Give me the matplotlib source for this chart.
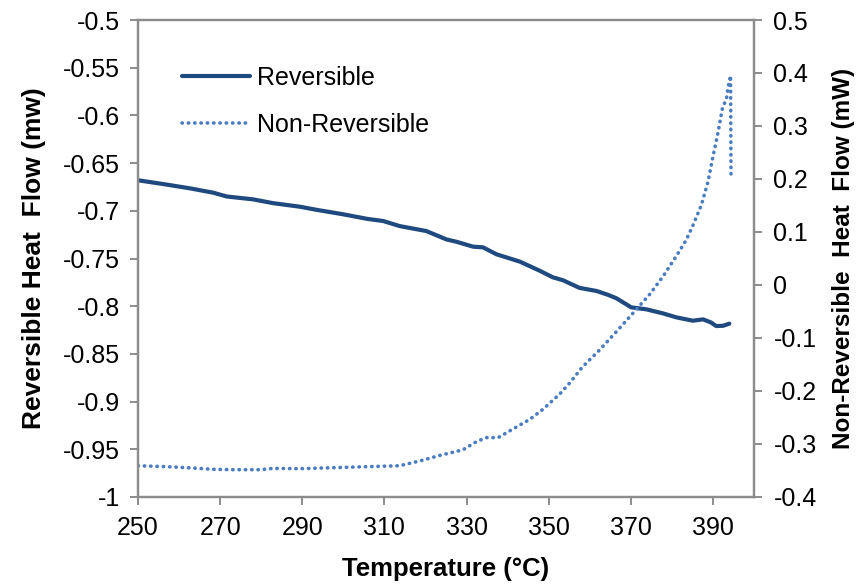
import matplotlib
matplotlib.use("Agg")
import matplotlib.pyplot as plt
from matplotlib.ticker import FixedLocator

plt.rcParams['font.family'] = ['Liberation Sans', 'DejaVu Sans']

# ---- data ----
rev_temp = [250, 256.2, 262.7, 268.3, 271.6, 278, 282.9, 289.4, 293.5, 300, 306,
            309.7, 313.7, 320.2, 325.1, 327.5, 331.6, 334, 337.3, 343, 347.8, 351,
            353.5, 357.5, 361.6, 364.4, 366.5, 370.1, 373.8, 377.8, 381.1, 385.1,
            387.6, 389.5, 390.8, 392.5, 394]
rev_flow = [-0.668, -0.672, -0.6765, -0.681, -0.685, -0.688, -0.692, -0.6957, -0.699,
            -0.7037, -0.7086, -0.7107, -0.716, -0.7212, -0.730, -0.7324, -0.7376,
            -0.7383, -0.7456, -0.7533, -0.7628, -0.7697, -0.7728, -0.7808, -0.7840,
            -0.788, -0.7917, -0.8012, -0.8033, -0.8075, -0.8117, -0.8152, -0.8138,
            -0.817, -0.8208, -0.8205, -0.8183]

nrev_temp = [250, 257, 262.7, 268.3, 273.2, 279.7, 282.9, 289.4, 297.5, 305.6, 313.7,
             318.6, 323.5, 329.1, 332.4, 334.8, 337.7, 341.3, 345.4, 348.6, 352.7,
             355.1, 358.3, 362.4, 366.5, 370.5, 374.6, 377.8, 381.1, 383.5, 385.1,
             387.2, 388.8, 390, 391.2, 392.3, 393.3, 393.7, 394.3, 394.4]
nrev_flow = [-0.341, -0.3428, -0.345, -0.3478, -0.3485, -0.3485, -0.346, -0.3466,
             -0.3447, -0.3428, -0.341, -0.332, -0.3215, -0.311, -0.2956, -0.288,
             -0.288, -0.2717, -0.2535, -0.2346, -0.2057, -0.185, -0.154, -0.1226,
             -0.088, -0.0535, -0.0176, 0.0157, 0.0547, 0.085, 0.112, 0.151, 0.195,
             0.242, 0.286, 0.333, 0.352, 0.374, 0.395, 0.204]

x_ticks = [250, 270, 290, 310, 330, 350, 370, 390]
left_ticks = [-1, -0.95, -0.9, -0.85, -0.8, -0.75, -0.7, -0.65, -0.6, -0.55, -0.5]
left_labels = ['-1', '-0.95', '-0.9', '-0.85', '-0.8', '-0.75', '-0.7', '-0.65', '-0.6', '-0.55', '-0.5']
right_ticks = [-0.4, -0.3, -0.2, -0.1, 0, 0.1, 0.2, 0.3, 0.4, 0.5]
right_labels = ['-0.4', '-0.3', '-0.2', '-0.1', '0', '0.1', '0.2', '0.3', '0.4', '0.5']

# ---- figure ----
fig = plt.figure(figsize=(8.66, 5.86), dpi=100)
ax = fig.add_axes([138/866, 1-497/586, (754-138)/866, (497-20)/586])
ax2 = ax.twinx()

c_rev = '#1F4A7F'
c_nrev = '#4A7CC0'
gray = '#8C8C8C'
fs = 18

l1, = ax.plot(rev_temp, rev_flow, color=c_rev, lw=3.0, solid_capstyle='round',
              label='Reversible')
l2, = ax2.plot(nrev_temp, nrev_flow, color=c_nrev, lw=2.6,
               linestyle=(0, (0.1, 1.65)), dash_capstyle='round',
               label='Non-Reversible')

ax.set_xlim(250, 400)
ax.set_ylim(-1, -0.5)
ax2.set_ylim(-0.4, 0.5)

ax.xaxis.set_major_locator(FixedLocator(x_ticks))
ax.set_xticklabels([str(t) for t in x_ticks])
ax.set_yticks(left_ticks)
ax.set_yticklabels(left_labels)
ax2.set_yticks(right_ticks)
ax2.set_yticklabels(right_labels)

for a in (ax, ax2):
    for s in a.spines.values():
        s.set_color(gray)
        s.set_linewidth(1.6)
    a.tick_params(colors=gray, width=1.4, length=6, direction='out',
                  labelsize=fs, labelcolor='black')

ax.tick_params(axis='y', pad=7)
ax.tick_params(axis='x', pad=8)
ax2.tick_params(axis='y', pad=8)

ax.set_xlabel('Temperature (°C)', fontsize=fs + 0.5, fontweight='bold', labelpad=12)
ax.set_ylabel('Reversible Heat  Flow (mw)', fontsize=19, fontweight='bold', labelpad=12)
ax2.set_ylabel('Non-Reversible  Heat  Flow (mW)', fontsize=17.5, fontweight='bold',
               labelpad=11)

fig.legend(handles=[l1, l2], loc='upper left', bbox_to_anchor=(182/866, 1-66/586),
           frameon=False, fontsize=fs, handlelength=2.7, handletextpad=0.3,
           labelspacing=0.9, borderpad=0, borderaxespad=0)

fig.savefig('out.png', dpi=100)
